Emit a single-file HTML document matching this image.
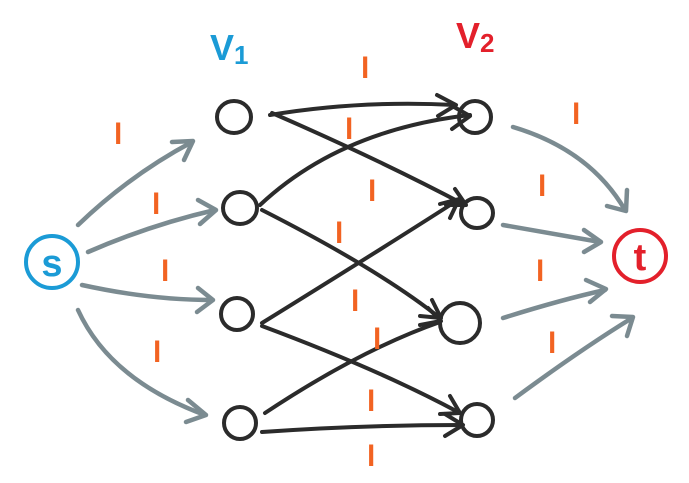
<!DOCTYPE html>
<html><head><meta charset="utf-8"><style>
html,body{margin:0;padding:0;background:#fff;}
svg{display:block;}
.g{stroke:#7b8b91;stroke-width:4.5;fill:none;stroke-linecap:round;stroke-linejoin:round;}
.k{stroke:#2b2b2b;stroke-width:4;fill:none;stroke-linecap:round;stroke-linejoin:round;}
.o{fill:#f26322;font-family:"Liberation Sans",sans-serif;font-size:30px;font-weight:bold;}
</style></head><body>
<svg width="689" height="483" viewBox="0 0 689 483" xmlns="http://www.w3.org/2000/svg">
<circle cx="52" cy="262" r="26" fill="none" stroke="#1b9bd6" stroke-width="4"/>
<text x="52" y="276" text-anchor="middle" font-family="Liberation Sans,sans-serif" font-size="38" font-weight="bold" fill="#1b9bd6">s</text>
<circle cx="640" cy="256" r="26" fill="none" stroke="#e3202b" stroke-width="4"/>
<text x="640" y="270" text-anchor="middle" font-family="Liberation Sans,sans-serif" font-size="38" font-weight="bold" fill="#e3202b">t</text>
<text x="210" y="60" font-family="Liberation Sans,sans-serif" font-size="36" font-weight="bold" fill="#1b9bd6">V<tspan font-size="26" dy="4">1</tspan></text>
<text x="456" y="48" font-family="Liberation Sans,sans-serif" font-size="36" font-weight="bold" fill="#e3202b">V<tspan font-size="26" dy="4">2</tspan></text>
<g class="k">
<ellipse cx="234" cy="117" rx="17" ry="16"/>
<ellipse cx="240" cy="208" rx="17" ry="16"/>
<ellipse cx="237" cy="314" rx="16" ry="16"/>
<ellipse cx="240" cy="423" rx="16" ry="16"/>
<ellipse cx="475" cy="117" rx="16" ry="16"/>
<ellipse cx="477" cy="213" rx="16" ry="15"/>
<ellipse cx="460" cy="323" rx="20" ry="20"/>
<ellipse cx="477" cy="420" rx="16" ry="16"/>
</g>
<g class="g">
<path d="M78 225 Q130 175 192 142"/><path d="M172 142 L193 141 L184 160"/>
<path d="M88 252 Q150 225 215 210"/><path d="M198 200 L216 210 L200 224"/>
<path d="M82 285 Q150 300 212 300"/><path d="M198 288 L213 300 L197 312"/>
<path d="M78 310 Q110 380 205 415"/><path d="M188 400 L206 415 L186 422"/>
<path d="M513 127 Q590 150 625 210"/><path d="M607 206 L626 211 L627 190"/>
<path d="M503 225 Q560 235 600 242"/><path d="M584 230 L601 242 L584 252"/>
<path d="M503 318 Q560 300 605 290"/><path d="M586 280 L606 289 L590 302"/>
<path d="M515 398 Q580 350 632 318"/><path d="M612 316 L633 317 L627 336"/>
</g>
<g class="k">
<path d="M270 115 Q360 100 455 105"/><path d="M437 95 L456 105 L438 116"/>
<path d="M272 113 Q380 160 465 205"/><path d="M446 205 L466 205 L455 189"/>
<path d="M260 205 Q340 130 470 115"/><path d="M452 129 L470 116 L454 107"/>
<path d="M262 210 Q380 270 440 318"/><path d="M420 316 L441 318 L432 300"/>
<path d="M262 323 Q380 250 458 200"/><path d="M440 204 L459 199 L450 218"/>
<path d="M262 326 Q380 370 458 412"/><path d="M440 414 L460 413 L450 396"/>
<path d="M265 413 Q360 350 440 322"/><path d="M420 325 L441 321 L428 308"/>
<path d="M262 432 Q360 425 462 425"/><path d="M445 414 L463 425 L445 436"/>
</g>
<g class="o">
<text x="114" y="144">l</text><text x="152" y="214">l</text><text x="161" y="281">l</text><text x="153" y="362">l</text>
<text x="361" y="78">l</text><text x="345" y="139">l</text><text x="368" y="201">l</text><text x="335" y="243">l</text>
<text x="351" y="311">l</text><text x="373" y="349">l</text><text x="367" y="411">l</text><text x="367" y="466">l</text>
<text x="572" y="124">l</text><text x="538" y="196">l</text><text x="536" y="281">l</text><text x="548" y="353">l</text>
</g>
</svg>
</body></html>
